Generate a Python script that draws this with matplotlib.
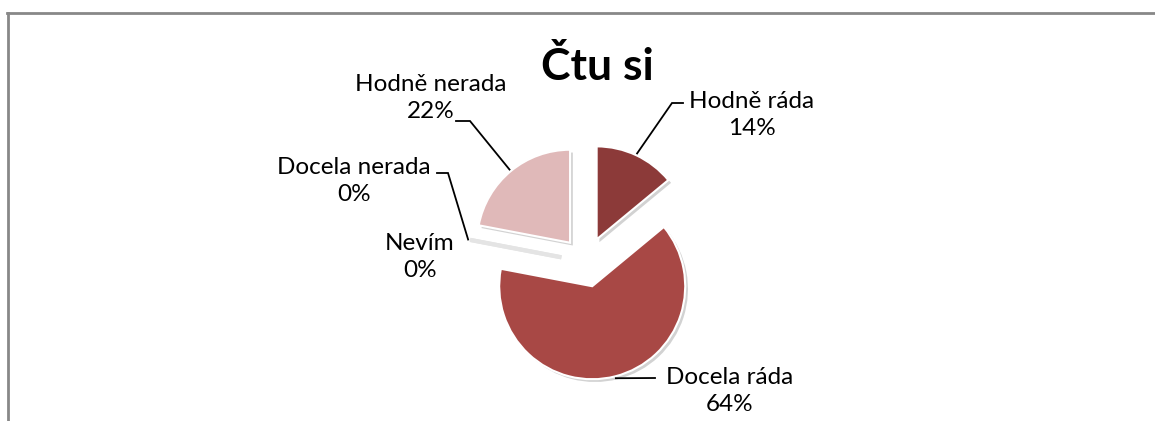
import matplotlib
matplotlib.use("Agg")
import matplotlib.pyplot as plt
import matplotlib.patheffects as pe
import numpy as np

# data (counts of answers)
categories = ["Hodně ráda", "Docela ráda", "Nevím", "Docela nerada", "Hodně nerada"]
counts = [7, 32, 0, 0, 11]
colors = ["#8C3A39", "#A84845", "#A84845", "#E0B9B9", "#E0B9B9"]

# label layout in pixel coords (y down): text centre, leader knee, leader end
label_pos = [(752, 115), (730, 391), (420, 257), (354, 181), (431, 98)]
knees = [(672, 103), (655, 378), None, (448, 173), (470, 121)]
ends = [(683, 103), (655, 378), None, (437, 173), (456, 121)]

W, H = 1155, 421
fig = plt.figure(figsize=(W / 100, H / 100), dpi=100)
ax = fig.add_axes([0, 0, 1, 1])

plt.rcParams["font.family"] = ["Lato", "DejaVu Sans"]

cx, cy, R = 586, H - 262, 93
wedges, _ = ax.pie(counts, colors=colors, startangle=90, counterclock=False,
                   radius=R, center=(cx, cy), explode=[25] * len(counts),
                   wedgeprops=dict(edgecolor="white", linewidth=1.5),
                   frame=True)
ax.set_xlim(0, W)
ax.set_ylim(0, H)
ax.set_aspect("equal")
ax.axis("off")

for w, c in zip(wedges, counts):
    if c == 0:
        w.set_edgecolor("#e4e4e4")
        w.set_linewidth(3)
    w.set_path_effects([pe.SimplePatchShadow(offset=(2, -2), alpha=0.35, shadow_rgbFace="#808080"),
                        pe.Normal()])

total = sum(counts)
for i, (w, name, c) in enumerate(zip(wedges, categories, counts)):
    pct = round(100 * c / total)
    tx, ty = label_pos[i]
    ax.text(tx, H - ty, f"{name}\n{pct}%", ha="center", va="center",
            fontsize=17.5, linespacing=1.3, color="#000000")
    if knees[i] is None:
        continue
    mid = np.deg2rad((w.theta1 + w.theta2) / 2)
    ox, oy = w.center
    ax_x = ox + (R + 2) * np.cos(mid)
    ax_y = oy + (R + 2) * np.sin(mid)
    kx, ky = knees[i]
    ex, ey = ends[i]
    ax.plot([ax_x, kx, ex], [ax_y, H - ky, H - ey], color="black", lw=1.3,
            solid_joinstyle="miter", zorder=5)

ax.text(597, H - 66, "Čtu si", ha="center", va="center", fontsize=32,
        fontweight="bold", color="black")

# chart frame (partially visible)
ax.plot([7, W], [H - 13, H - 13], color="#888888", lw=2, clip_on=False)
ax.plot([8, 8], [H - 13, 0], color="#888888", lw=2, clip_on=False)

fig.savefig("out.png", dpi=100)
